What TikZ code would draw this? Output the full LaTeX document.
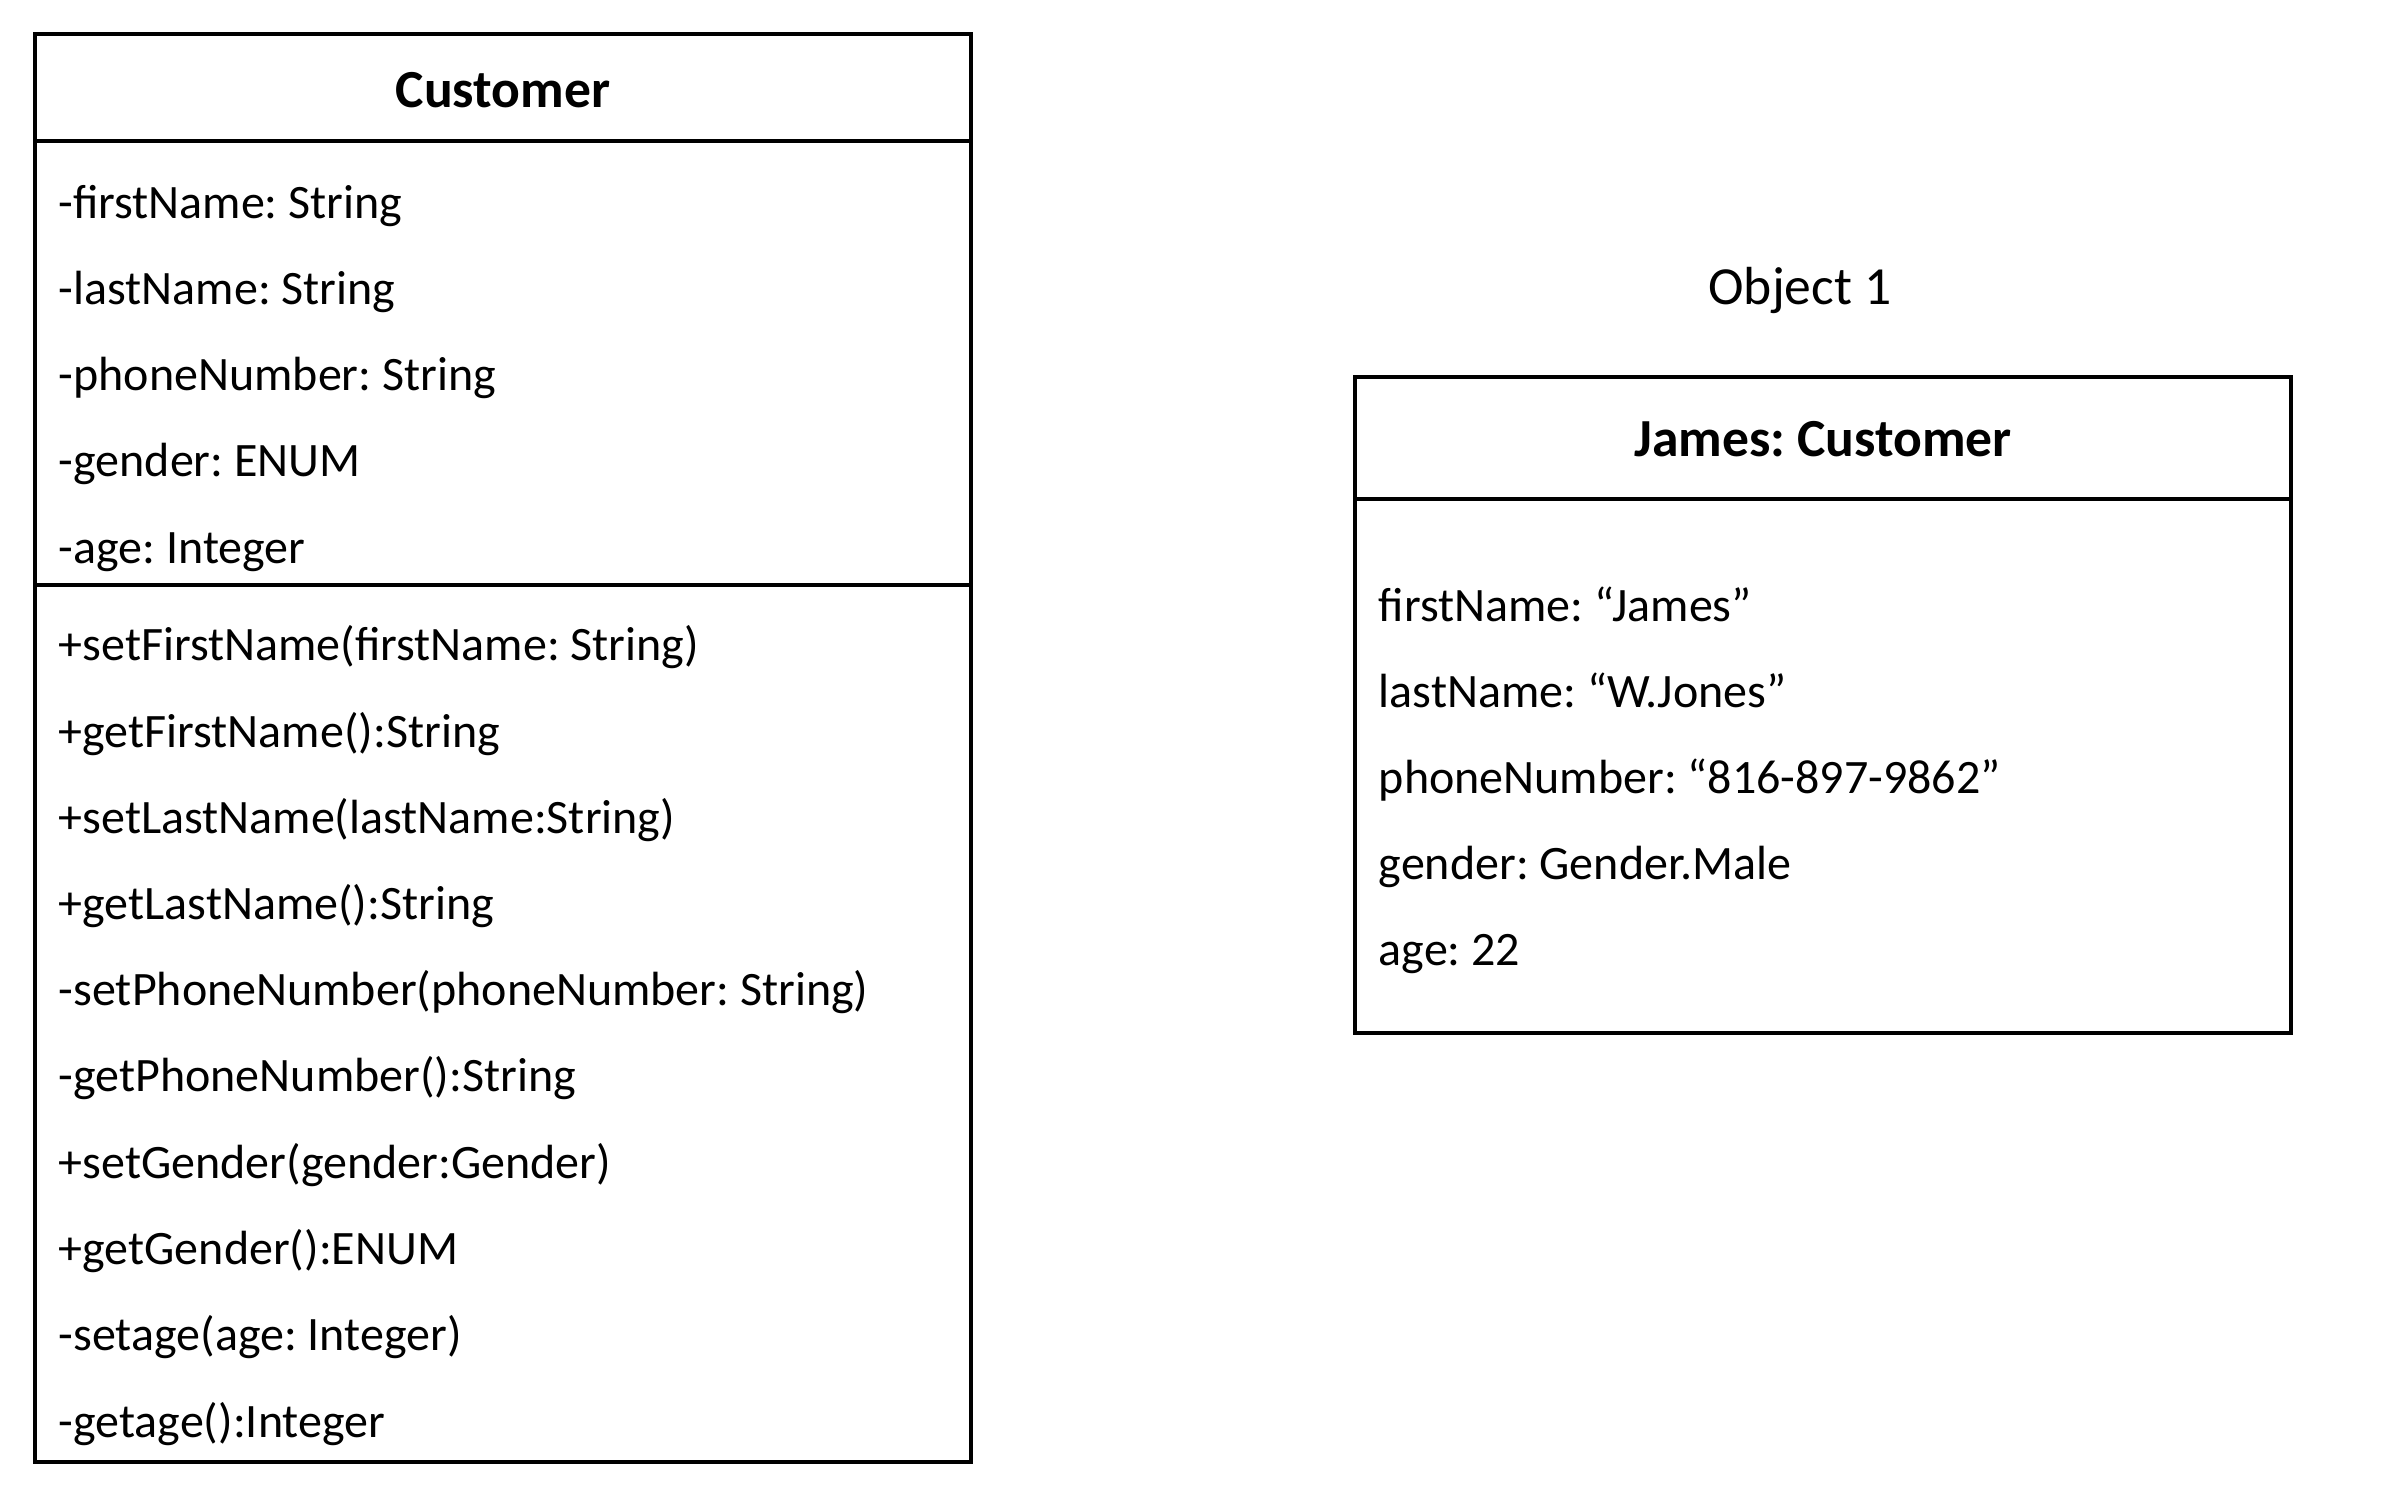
\documentclass[tikz,border=0pt]{standalone}
\usepackage{fontspec}
\setmainfont{Carlito}
\usetikzlibrary{positioning}
\frenchspacing

\begin{document}
\begin{tikzpicture}[x=0.25pt, y=-0.25pt,
  every node/.style={font=\fontsize{12pt}{14pt}\selectfont},
  umlbox/.style={draw, line width=0.8pt, inner sep=0pt, outer sep=0pt, minimum width=234pt},
  boxtitle/.style={font=\fontsize{13.4pt}{16pt}\selectfont\bfseries},
  member/.style={anchor=base west, inner sep=0pt}]

  \useasboundingbox[fill=white] (0,0) rectangle (2406,1490);

  % class
  \node[umlbox, anchor=north west, minimum height=26.75pt] (custhead) at (35,34) {};
  \node[umlbox, below=0pt of custhead, minimum height=111pt] (custattr) {};
  \node[umlbox, below=0pt of custattr, minimum height=219.25pt] (custops) {};
  \node[boxtitle] (custname) at ([yshift=-0.75pt]custhead.center) {Customer};

  \node[member] (afirst) at (58,218) {-firstName: String};
  \node[member] (alast) at (58,304) {-lastName: String};
  \node[member] (aphone) at (58,390) {-phoneNumber: String};
  \node[member] (agender) at (58,476) {-gender: ENUM};
  \node[member] (aage) at (58,563) {-age: Integer};

  \node[member] (msetfirst) at (58,660) {+setFirstName(firstName: String)};
  \node[member] (mgetfirst) at (58,747) {+getFirstName():String};
  \node[member] (msetlast) at (58,833) {+setLastName(lastName:String)};
  \node[member] (mgetlast) at (58,919) {+getLastName():String};
  \node[member] (msetphone) at (58,1005) {-setPhoneNumber(phoneNumber: String)};
  \node[member] (mgetphone) at (58,1091) {-getPhoneNumber():String};
  \node[member] (msetgender) at (58,1178) {+setGender(gender:Gender)};
  \node[member] (mgetgender) at (58,1264) {+getGender():ENUM};
  \node[member] (msetage) at (58,1350) {-setage(age: Integer)};
  \node[member] (mgetage) at (58,1437) {-getage():Integer};

  % object
  \node[font=\fontsize{13.4pt}{16pt}\selectfont, anchor=base] (objlabel) at (1800,304) {Object 1};
  \node[umlbox, anchor=north west, minimum height=30.5pt] (jameshead) at (1355,377) {};
  \node[umlbox, below=0pt of jameshead, minimum height=133.5pt] (jamesslots) {};
  \node[boxtitle] (jamesname) at ([yshift=-0.3pt]jameshead.center) {James: Customer};

  \node[member] (sfirst) at (1378,621) {firstName: “James”};
  \node[member] (slast) at (1378,707) {lastName: “W.Jones”};
  \node[member] (sphone) at (1378,793) {phoneNumber: “816-897-9862”};
  \node[member] (sgender) at (1378,879) {gender: Gender.Male};
  \node[member] (sage) at (1378,965) {age: 22};
\end{tikzpicture}
\end{document}
